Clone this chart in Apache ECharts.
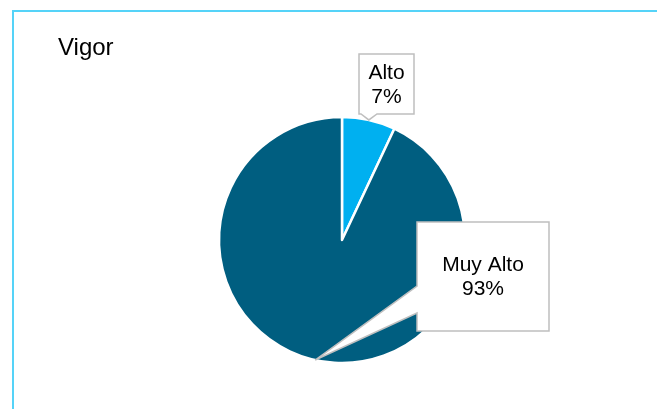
<!DOCTYPE html>
<html>
<head>
<meta charset="utf-8">
<script src="https://cdn.jsdelivr.net/npm/echarts@6/dist/echarts.min.js"></script>
<style>
html,body{margin:0;padding:0;background:#fff;}
#chart{width:657px;height:409px;}
</style>
</head>
<body>
<div id="chart"></div>
<script>
const title = 'Vigor';
const categories = ['Alto', 'Muy Alto'];
const values = [7, 93];
const colors = ['#00B0F0', '#005E80'];

const cx = 342, cy = 240, R = 123;
const total = values.reduce((a, b) => a + b, 0);
const pcts = values.map(v => Math.round(v / total * 100));

// callout boxes (styling) and pointer bases
const boxes = [
  {x: 359, y: 54, w: 55, h: 60, base: [[377, 114], [361, 114]], side: 'bottom', ty: 85},
  {x: 417, y: 222, w: 132, h: 109, base: [[417, 313], [417, 286]], side: 'left', ty: 277}
];

// midpoint tips from data
let cum = 0;
const tips = values.map(v => {
  const a = (cum + v / 2) / total * 2 * Math.PI;
  cum += v;
  return [cx + R * Math.sin(a), cy - R * Math.cos(a)];
});

const graphics = [{
  type: 'rect', z: 1, silent: true,
  shape: {x: 13, y: 11, width: 800, height: 600},
  style: {fill: 'none', stroke: '#55D3F8', lineWidth: 2}
}];
boxes.forEach((b, i) => {
  let pts;
  if (b.side === 'bottom') {
    pts = [[b.x, b.y], [b.x + b.w, b.y], [b.x + b.w, b.y + b.h], b.base[0], tips[i], b.base[1], [b.x, b.y + b.h]];
  } else {
    pts = [[b.x, b.y], [b.x + b.w, b.y], [b.x + b.w, b.y + b.h], [b.x, b.y + b.h], b.base[0], tips[i], b.base[1]];
  }
  graphics.push({
    type: 'polygon', z: 10, silent: true,
    shape: {points: pts},
    style: {fill: '#fff', stroke: '#BFBFBF', lineWidth: 1.5}
  });
  graphics.push({
    type: 'text', z: 11, silent: true,
    x: b.x + b.w / 2, y: b.ty,
    style: {
      text: categories[i] + '\n' + pcts[i] + '%',
      fill: '#000', font: '21px "Liberation Sans", Arial, sans-serif',
      align: 'center', verticalAlign: 'middle', lineHeight: 23.5
    }
  });
});

const chart = echarts.init(document.getElementById('chart'), null, {renderer: 'canvas'});
chart.setOption({
  animation: false,
  title: {
    text: title, left: 58, top: 36, padding: 0,
    textStyle: {fontFamily: '"Liberation Sans", Arial, sans-serif', fontSize: 24, fontWeight: 'normal', color: '#000'}
  },
  graphic: graphics,
  series: [{
    type: 'pie',
    z: 2,
    center: [cx, cy],
    radius: R,
    startAngle: 90,
    clockwise: true,
    label: {show: false},
    labelLine: {show: false},
    itemStyle: {borderColor: '#fff', borderWidth: 2.5},
    emphasis: {disabled: true},
    data: categories.map((c, i) => ({name: c, value: values[i], itemStyle: {color: colors[i]}}))
  }]
});
</script>
</body>
</html>
